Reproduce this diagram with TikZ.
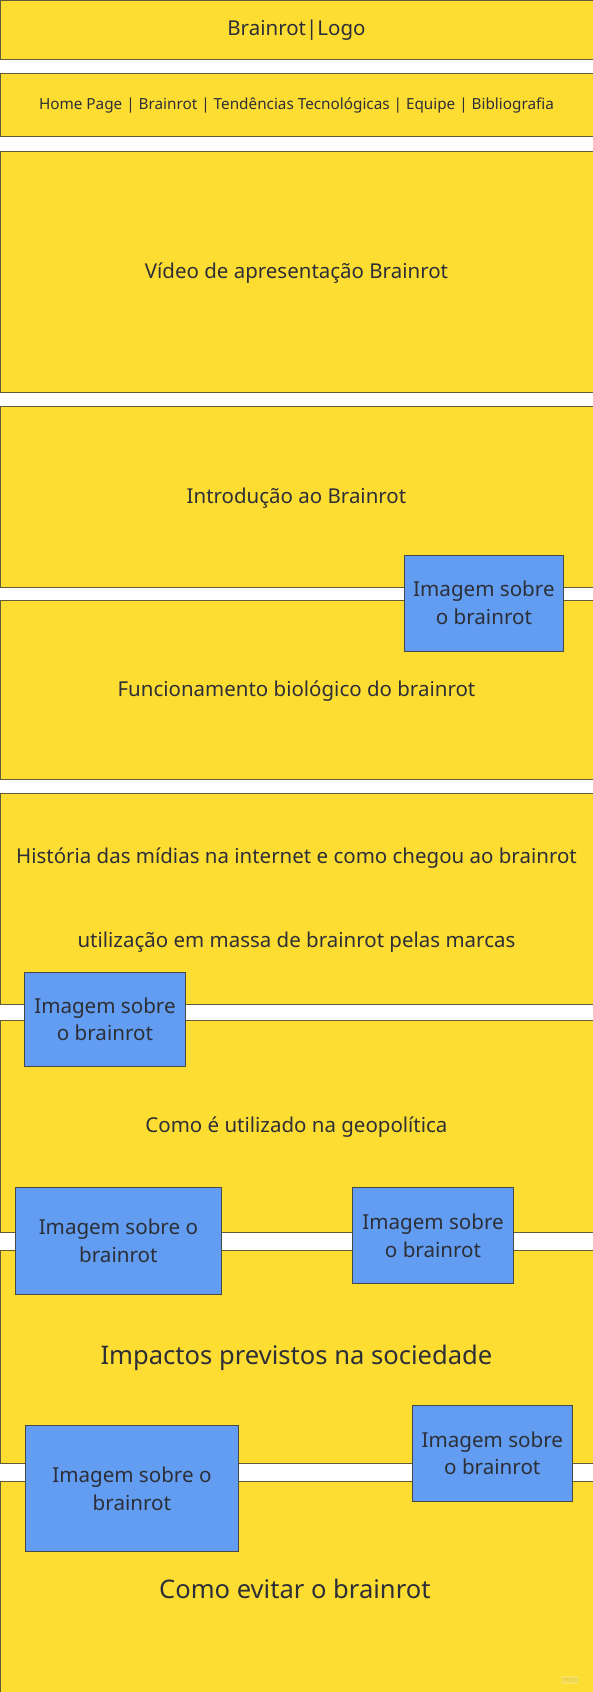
\documentclass[tikz,border=0pt]{standalone}
\usepackage{fontspec}
\setmainfont{Noto Sans}
\definecolor{ylw}{RGB}{254,221,51}
\definecolor{blu}{RGB}{98,157,241}
\definecolor{ybd}{RGB}{98,90,58}
\definecolor{bbd}{RGB}{72,72,72}
\definecolor{txt}{RGB}{45,47,55}
\definecolor{mirot}{RGB}{215,190,70}
\definecolor{mirob}{RGB}{250,225,90}
\begin{document}
\begin{tikzpicture}[x=1pt,y=-1pt,
  bar/.style={draw=ybd,fill=ylw,line width=0.8pt,inner sep=0pt,outer sep=0pt,anchor=north west,minimum width=580pt},
  img/.style={draw=bbd,fill=blu,line width=0.8pt,inner sep=0pt,outer sep=0pt,anchor=north west,text=txt,align=center,font=\fontsize{19}{25.5}\selectfont},
  lbl/.style={text=txt,align=center,inner sep=0pt},
  fmid/.style={font=\fontsize{18.9}{22}\selectfont},
  fbig/.style={font=\fontsize{23.6}{28}\selectfont},
  fnav/.style={font=\fontsize{14.1}{17}\selectfont}]
\useasboundingbox (0,0) rectangle (547,1561);
\clip (0,0) rectangle (547,1561);
\fill[white] (-1,-1) rectangle (548,1562);
% yellow bars
\node[bar,minimum height=54pt] (header) at (0.5,0.5) {};
\node[bar,minimum height=59pt] (nav) at (0.5,67.3) {};
\node[bar,minimum height=222.5pt] (video) at (0.5,140) {};
\node[bar,minimum height=166.5pt] (intro) at (0.5,375) {};
\node[bar,minimum height=165.5pt] (func) at (0.5,553.5) {};
\node[bar,minimum height=195pt] (hist) at (0.5,732) {};
\node[bar,minimum height=196pt] (geo) at (0.5,941) {};
\node[bar,minimum height=196pt] (imp) at (0.5,1154) {};
\node[bar,minimum height=220pt] (evit) at (0.5,1367) {};
% texts
\node[lbl,fmid] (tlogo) at (273.5,28) {Brainrot|Logo};
\node[lbl,fnav] (tnav) at (273.5,97.6) {Home Page | Brainrot | Tendências Tecnológicas | Equipe | Bibliografia};
\node[lbl,fmid] (tvideo) at (273.5,252) {Vídeo de apresentação Brainrot};
\node[lbl,fmid] (tintro) at (273.5,460) {Introdução ao Brainrot};
\node[lbl,fmid] (tfunc) at (273.5,637.5) {Funcionamento biológico do brainrot};
\node[lbl,fmid] (thist) at (273.5,792) {História das mídias na internet e como chegou ao brainrot};
\node[lbl,fmid] (tmarcas) at (273.5,869.5) {utilização em massa de brainrot pelas marcas};
\node[lbl,fmid] (tgeo) at (273.5,1040) {Como é utilizado na geopolítica};
\node[lbl,fbig] (timp) at (273.5,1253) {Impactos previstos na sociedade};
\node[lbl,fbig] (tevit) at (272,1466) {Como evitar o brainrot};
% blue image boxes
\node[img,minimum width=147.5pt,minimum height=88.6pt] (img1) at (372.7,512) {Imagem sobre\\o brainrot};
\node[img,minimum width=147.7pt,minimum height=87.6pt] (img2) at (23,896.7) {Imagem sobre\\o brainrot};
\node[img,minimum width=189.4pt,minimum height=99.3pt] (img3) at (14.5,1095.3) {Imagem sobre o\\brainrot};
\node[img,minimum width=148pt,minimum height=89pt] (img4) at (325.5,1095.3) {Imagem sobre\\o brainrot};
\node[img,minimum width=147.6pt,minimum height=88.9pt] (img5) at (380.4,1296.4) {Imagem sobre\\o brainrot};
\node[img,minimum width=196pt,minimum height=117pt] (img6) at (23.7,1314.7) {Imagem sobre o\\brainrot};
% watermark
\node[fill=mirob,text=mirot,inner sep=1.5pt,font=\fontsize{6.5}{7}\selectfont] (miro) at (526,1550) {miro};
\end{tikzpicture}
\end{document}
